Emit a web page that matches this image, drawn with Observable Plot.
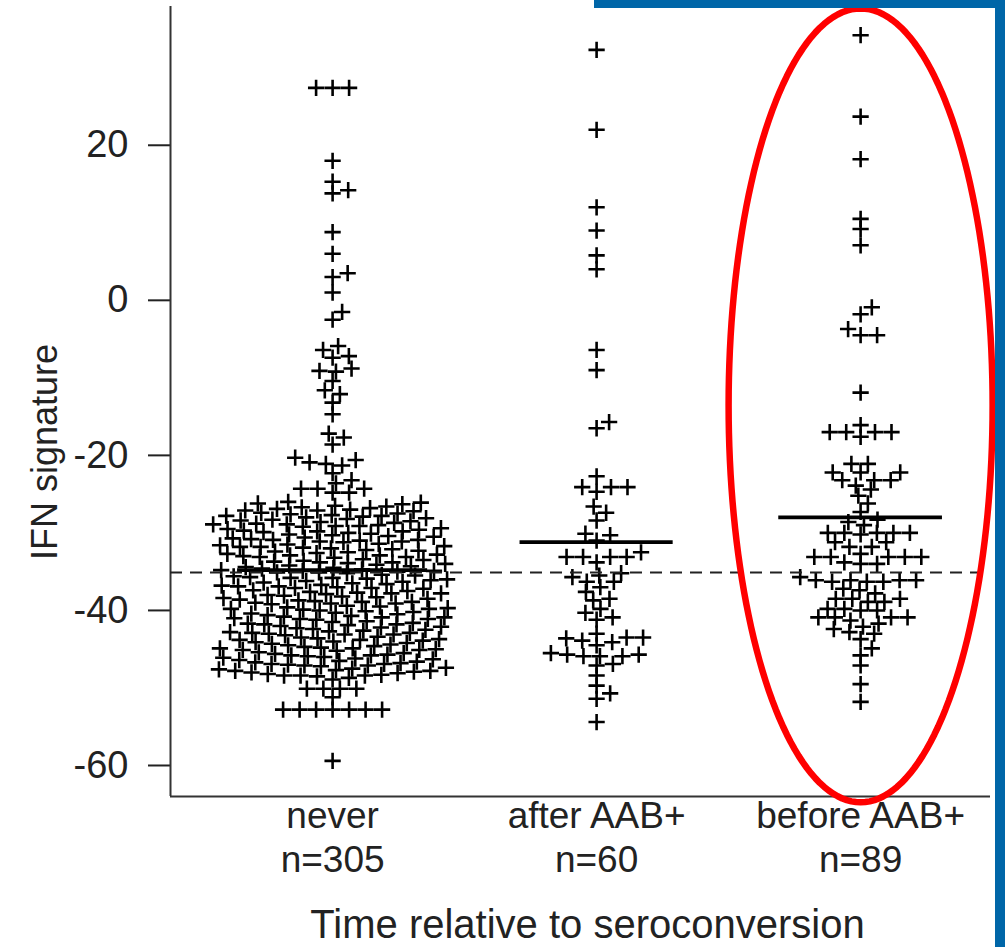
<!DOCTYPE html>
<html>
<head>
<meta charset="utf-8">
<script src="https://cdn.jsdelivr.net/npm/d3@7"></script>
<script src="https://cdn.jsdelivr.net/npm/@observablehq/plot@0.6"></script>
<style>
  html, body { margin: 0; padding: 0; background: #fff; }
  #wrap { position: relative; width: 1005px; height: 947px; overflow: hidden; background: #fff;
          font-family: 'Liberation Sans', Arial, Helvetica, sans-serif; color: #222; }
  #chart { position: absolute; left: 0; top: 0; }
  .blue { position: absolute; background: #0066a8; z-index: 5; }
  #ylab { position: absolute; left: 45px; top: 452px; transform: translate(-50%, -50%) rotate(-90deg);
          font-size: 36px; white-space: nowrap; line-height: 1; }
</style>
</head>
<body>
<div id="wrap">
  <div id="chart"></div>
  <div id="ylab"></div>
  <div class="blue" style="left:594px;top:0;width:411px;height:8px"></div>
  <div class="blue" style="left:995px;top:0;width:10px;height:947px"></div>
</div>
<script>
// ---------------- data ----------------
const groups = ["never", "after AAB+", "before AAB+"];
const nLabels = ["n=305", "n=60", "n=89"];
const yTicks = [-60, -40, -20, 0, 20];
const yLabel = "IFN signature";
const xLabel = "Time relative to seroconversion";
const groupMeans = [-34.8, -31.2, -28.0];  // solid bars (group means)
const referenceLine = -35.1;               // dashed horizontal line

const neverValues = [
  27.4, 27.4, 27.4, 18.0, 15.3, 14.2, 13.8, 8.8, 6.0, 3.5, 3.0, 1.0, -1.5, -2.5,
  -5.9, -6.4, -7.2, -7.4, -8.8, -9.1, -9.2, -10.4, -11.6, -12.1, -13.2, -14.7,
  -17.2, -17.7, -18.6, -20.3, -20.6, -20.9, -21.1, -21.3, -22.3, -23.2, -23.6,
  -24.3, -24.3, -24.3, -24.8, -24.8, -26.0,
  -26.1,-26.2,-26.3,-26.5,-26.6,-26.7,-26.8,-26.9,
  -27.0,-27.1,-27.1,-27.2,-27.4,-27.5,-27.6,-27.7,-27.8,-27.8,-27.9,
  -28.0,-28.1,-28.2,-28.3,-28.4,-28.5,-28.6,-28.7,-28.8,-28.9,-28.9,
  -29.0,-29.1,-29.1,-29.2,-29.4,-29.5,-29.6,-29.7,-29.8,-29.8,-29.9,
  -30.0,-30.1,-30.2,-30.3,-30.4,-30.5,-30.6,-30.7,-30.8,-30.9,-30.9,
  -31.0,-31.1,-31.1,-31.2,-31.4,-31.5,-31.6,-31.7,-31.8,-31.8,-31.9,
  -32.0,-32.1,-32.2,-32.3,-32.4,-32.5,-32.6,-32.7,-32.8,-32.9,-32.9,
  -33.0,-33.1,-33.1,-33.2,-33.4,-33.5,-33.6,-33.7,-33.8,-33.8,-33.9,
  -34.0,-34.1,-34.2,-34.3,-34.4,-34.5,-34.6,-34.7,-34.8,-34.9,-34.9,
  -35.0,-35.1,-35.1,-35.2,-35.4,-35.5,-35.6,-35.7,-35.8,-35.8,-35.9,
  -36.0,-36.1,-36.2,-36.3,-36.4,-36.5,-36.6,-36.7,-36.8,-36.9,-36.9,
  -37.0,-37.1,-37.1,-37.2,-37.4,-37.5,-37.6,-37.7,-37.8,-37.8,-37.9,
  -38.0,-38.1,-38.2,-38.3,-38.4,-38.5,-38.6,-38.7,-38.8,-38.9,-38.9,
  -39.0,-39.1,-39.1,-39.2,-39.4,-39.5,-39.6,-39.7,-39.8,-39.8,-39.9,
  -40.0,-40.1,-40.2,-40.3,-40.4,-40.5,-40.6,-40.7,-40.8,-40.9,-40.9,
  -41.0,-41.1,-41.1,-41.2,-41.4,-41.5,-41.6,-41.7,-41.8,-41.8,-41.9,
  -42.0,-42.1,-42.2,-42.3,-42.4,-42.5,-42.6,-42.7,-42.8,-42.9,-42.9,
  -43.0,-43.1,-43.1,-43.2,-43.4,-43.5,-43.6,-43.7,-43.8,-43.8,-43.9,
  -44.0,-44.1,-44.2,-44.3,-44.4,-44.5,-44.6,-44.7,-44.8,-44.9,-44.9,
  -45.0,-45.1,-45.1,-45.2,-45.4,-45.5,-45.6,-45.7,-45.8,-45.8,-45.9,
  -46.0,-46.1,-46.2,-46.3,-46.4,-46.5,-46.6,-46.7,-46.8,-46.9,-46.9,
  -47.0,-47.1,-47.1,-47.2,-47.4,-47.5,-47.6,-47.7,-47.8,-47.8,-47.9,
  -48.0,-48.1,-48.2,-48.3,-48.4,-48.4,-48.4,-48.5,-48.7,-48.9,
  -50.1,-50.1,-50.1,-50.1,-51.2,-52.8,-52.8,-52.8,-52.8,-52.8,-52.8,-52.8,-59.4
];

const afterValues = [
  32.3, 22.0, 12.0, 9.0, 5.8, 4.0, -6.4, -9.0, -15.7, -16.5, -22.7, -24.1, -24.1,
  -24.1, -24.7, -26.6, -27.4, -28.4, -30.1, -30.3, -31.0, -32.5, -33.1, -33.1,
  -33.1, -33.1, -33.8, -35.2, -35.5, -35.7, -36.3, -36.3, -37.0, -37.6, -38.5,
  -38.7, -39.8, -40.3, -40.9, -41.2, -43.0, -43.5, -43.5, -43.6, -43.9, -44.1,
  -44.5, -45.5, -45.7, -45.7, -45.9, -45.9, -45.9, -46.9, -47.1, -48.4, -49.7,
  -50.7, -51.4, -54.4
];

const beforeValues = [
  34.2, 23.7, 18.2, 10.5, 9.2, 7.1, -0.9, -1.8, -3.7, -4.5, -4.5, -11.9, -16.1,
  -17.0, -17.0, -17.0, -17.0, -17.6, -21.1, -21.1, -22.2, -22.2, -22.2, -23.2,
  -23.2, -23.2, -23.9, -24.4, -25.2, -26.2, -27.3, -28.3, -28.6, -29.0, -30.0,
  -30.0, -30.0, -30.0, -30.0, -30.2, -31.2, -31.2, -31.8, -31.8, -32.7, -33.1,
  -33.1, -33.1, -33.1, -33.1, -33.8, -34.0, -34.0, -35.7, -36.1, -36.1, -36.1,
  -36.1, -36.3, -36.3, -36.3, -37.2, -37.4, -37.8, -38.5, -38.5, -38.5, -38.9,
  -38.9, -39.8, -39.8, -40.0, -40.0, -40.9, -40.9, -40.9, -40.9, -41.3, -41.7,
  -42.1, -42.4, -42.8, -43.0, -43.7, -44.9, -45.8, -47.1, -49.5, -51.8
];

// ---------------- layout / style config ----------------
const W = 1005, H = 947;
const mt = 6, mr = 15, mb = 151, ml = 170;
const xDomain = [0.386, 3.492];
const yDomain = [-64, 37.9];
const meanHalfWidth = [0.36, 0.29, 0.31];          // length of mean bars (x units)
const highlight = {group: 3, cy: -13.55, rx: 0.5, ry: 51.2}; // red ellipse
const swarmDX = 16.5, swarmDY = 9.5;                // beeswarm spacing (px)
const font = "'Liberation Sans', Arial, Helvetica, sans-serif";

const pxPerY = (H - mt - mb) / (yDomain[1] - yDomain[0]);
const pxPerX = (W - ml - mr) / (xDomain[1] - xDomain[0]);

// beeswarm ("swarm" method, ascending priority)
function swarm(valsPx, dx, dy) {
  const order = d3.range(valsPx.length).sort((a, b) => d3.ascending(valsPx[a], valsPx[b]) || a - b);
  const placed = [];
  const out = new Array(valsPx.length);
  for (const i of order) {
    const y = valsPx[i];
    const near = placed.filter(p => Math.abs(p.y - y) < dy);
    const cands = [0];
    for (const p of near) {
      const t = (y - p.y) / dy;
      const o = dx * Math.sqrt(Math.max(0, 1 - t * t));
      cands.push(p.x + o, p.x - o);
    }
    let best = Infinity;
    for (const c of cands) {
      if (Math.abs(c) >= Math.abs(best) - 1e-9) continue;
      if (near.every(p => ((c - p.x) / dx) ** 2 + ((y - p.y) / dy) ** 2 >= 0.9999)) best = c;
    }
    out[i] = best;
    placed.push({x: best, y});
  }
  return out;
}

const groupValues = [neverValues, afterValues, beforeValues];
const points = [];
const means = [];
groupValues.forEach((vals, gi) => {
  const offs = swarm(vals.map(v => v * pxPerY), swarmDX, swarmDY);
  vals.forEach((v, i) => points.push({group: groups[gi], value: v, x: gi + 1 + offs[i] / pxPerX}));
  means.push({group: groups[gi], gi: gi + 1, mean: groupMeans[gi], hw: meanHalfWidth[gi]});
});

const ellipse = d3.range(0, 361, 2).map(a => {
  const t = a * Math.PI / 180;
  return {x: highlight.group + highlight.rx * Math.cos(t), y: highlight.cy + highlight.ry * Math.sin(t)};
});

const plot = Plot.plot({
  width: W, height: H,
  marginTop: mt, marginRight: mr, marginBottom: mb, marginLeft: ml,
  style: {fontFamily: font, color: "#222", background: "transparent", overflow: "visible"},
  x: {domain: xDomain},
  y: {domain: yDomain},
  marks: [
    Plot.axisY(yTicks, {tickSize: 22, tickPadding: 20, fontSize: 38, strokeWidth: 2,
      tickFormat: d => String(d), label: null}),
    Plot.axisX([1, 2, 3], {tickSize: 0, tickPadding: 0, fontSize: 37, lineHeight: 1.2,
      tickFormat: i => `${groups[i - 1]}\n${nLabels[i - 1]}`, label: null}),
    Plot.text([xLabel], {text: d => d, frameAnchor: "bottom", dx: 7, dy: 141,
      fontSize: 40, fill: "#222"}),
    Plot.ruleX([xDomain[0]], {stroke: "#333", strokeWidth: 2}),
    Plot.ruleY([yDomain[0]], {stroke: "#333", strokeWidth: 2}),
    Plot.dot(points, {x: "x", y: "value", symbol: "plus", r: 5.3, stroke: "#000", strokeWidth: 2.6}),
    Plot.ruleY(means, {x1: d => d.gi - d.hw, x2: d => d.gi + d.hw, y: "mean", stroke: "#000", strokeWidth: 3.8}),
    Plot.ruleY([referenceLine], {stroke: "#222", strokeWidth: 2, strokeDasharray: "12,8"}),
    Plot.line(ellipse, {x: "x", y: "y", curve: "linear-closed", stroke: "#ff0000", strokeWidth: 6.5})
  ]
});
document.getElementById("chart").appendChild(plot);
document.getElementById("ylab").textContent = yLabel;
</script>
</body>
</html>
